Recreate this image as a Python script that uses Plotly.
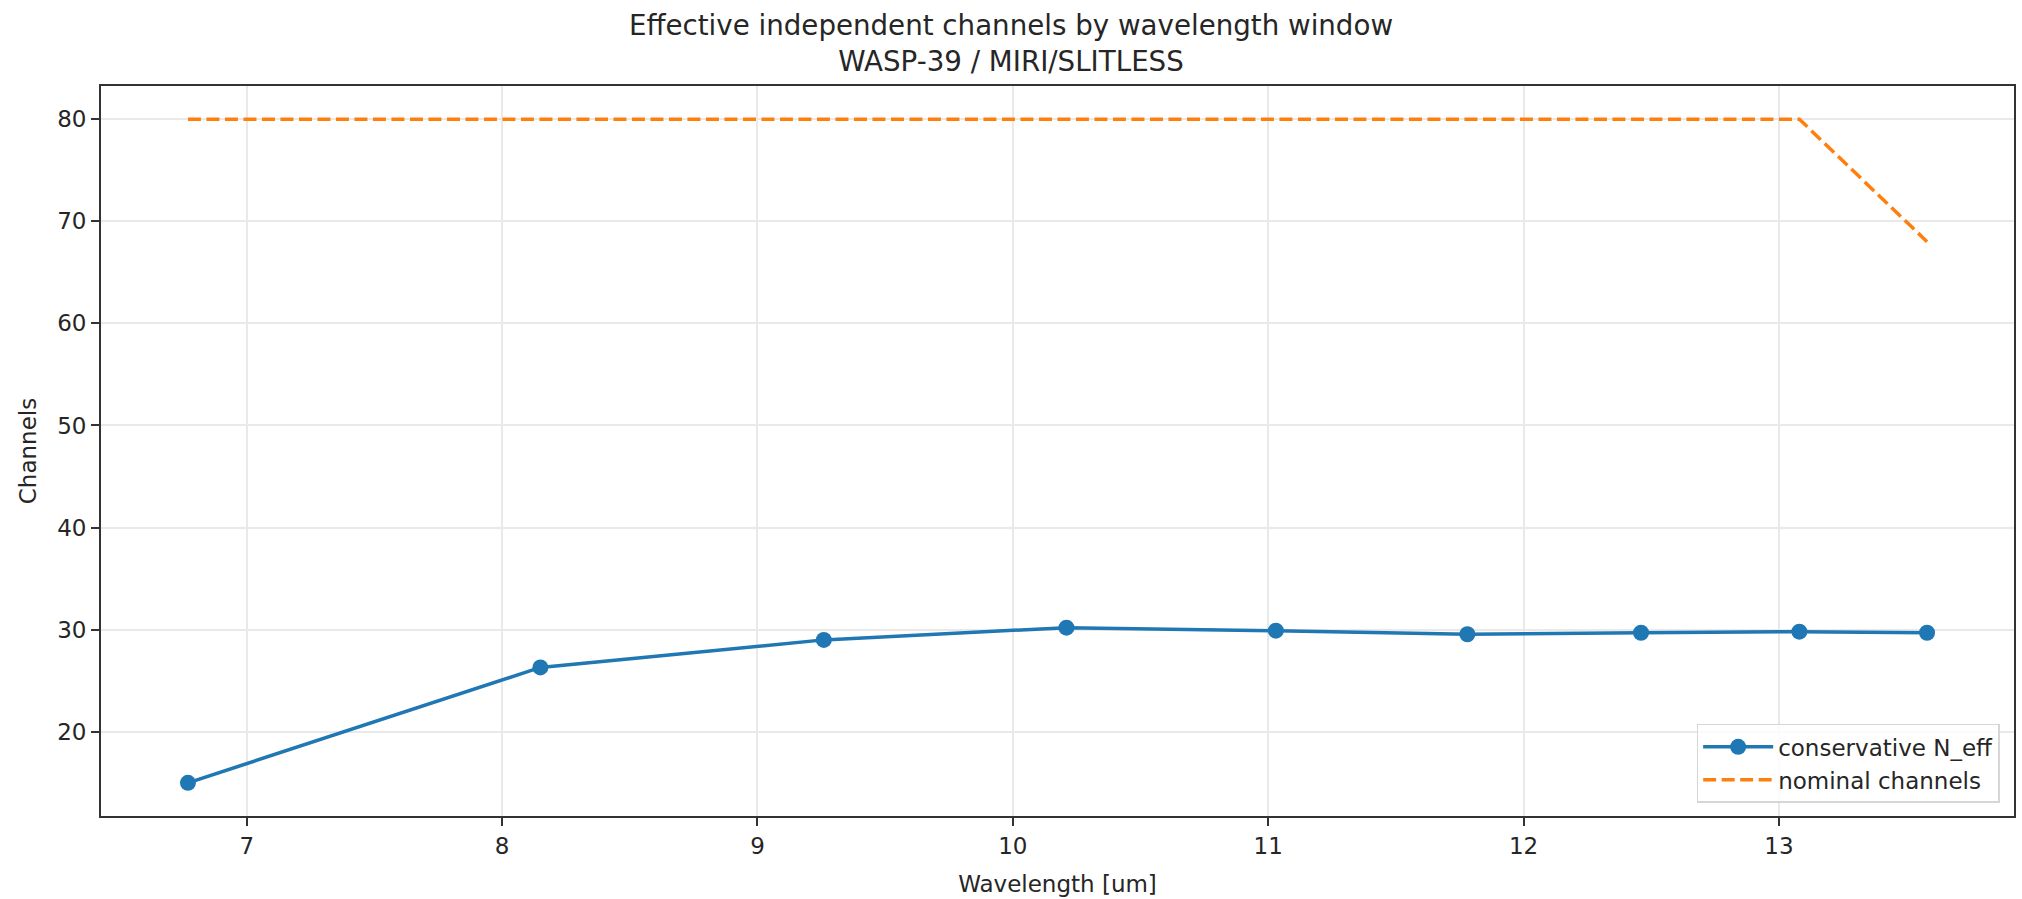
import plotly.graph_objects as go

# Data
wavelength_um = [6.77, 8.15, 9.26, 10.21, 11.03, 11.78, 12.46, 13.08, 13.58]
conservative_neff = [15.0, 26.3, 29.0, 30.2, 29.9, 29.55, 29.7, 29.8, 29.7]
nominal_channels = [80, 80, 80, 80, 80, 80, 80, 80, 68]

title_line1 = "Effective independent channels by wavelength window"
title_line2 = "WASP-39 / MIRI/SLITLESS"
x_label = "Wavelength [um]"
y_label = "Channels"

BLUE = "#1f77b4"
ORANGE = "#ff7f0e"
FONT = "DejaVu Sans"

fig = go.Figure()
fig.add_trace(go.Scatter(
    x=wavelength_um, y=conservative_neff, mode="lines+markers",
    name="conservative N_eff",
    line=dict(color=BLUE, width=3.5),
    marker=dict(color=BLUE, size=16),
))
fig.add_trace(go.Scatter(
    x=wavelength_um, y=nominal_channels, mode="lines",
    name="nominal channels",
    line=dict(color=ORANGE, width=3.5, dash="13px,5.5px"),
))

xmin, xmax = min(wavelength_um), max(wavelength_um)
ymin = min(min(conservative_neff), min(nominal_channels))
ymax = max(max(conservative_neff), max(nominal_channels))
xpad = 0.05 * (xmax - xmin)
ypad = 0.05 * (ymax - ymin)

axis_common = dict(
    showline=True, linecolor="#333333", linewidth=1.9, mirror=True,
    ticks="outside", ticklen=8, tickwidth=1.9, tickcolor="#333333",
    showgrid=True, gridcolor="#e9e9e9", gridwidth=1.6,
    zeroline=False,
    tickfont=dict(family=FONT, size=23, color="#262626"),
)

fig.update_layout(
    width=2022, height=899,
    margin=dict(l=101, r=6, t=86, b=82),
    paper_bgcolor="white", plot_bgcolor="white",
    font=dict(family=FONT, color="#262626"),
    title=dict(
        text=title_line1 + "<br>" + title_line2,
        x=0.5, xref="container", xanchor="center",
        y=1 - 34.5 / 899, yref="container", yanchor="middle",
        font=dict(family=FONT, size=27.7, color="#262626"),
    ),
    xaxis=dict(
        range=[xmin - xpad, xmax + xpad], dtick=1, tick0=0,
        title=dict(text=x_label, font=dict(family=FONT, size=23, color="#262626"), standoff=18),
        **axis_common,
    ),
    yaxis=dict(
        range=[ymin - ypad, ymax + ypad], dtick=10, tick0=0,
        title=dict(text=y_label, font=dict(family=FONT, size=23, color="#262626"), standoff=14),
        **axis_common,
    ),
    legend=dict(
        x=0.9925, y=0.018, xanchor="right", yanchor="bottom",
        bgcolor="rgba(255,255,255,0.8)", bordercolor="#d6d6d6", borderwidth=1.5,
        font=dict(family=FONT, size=23, color="#262626"),
        itemwidth=70, tracegroupgap=0,
    ),
    showlegend=True,
)

fig.write_html("out.html")
